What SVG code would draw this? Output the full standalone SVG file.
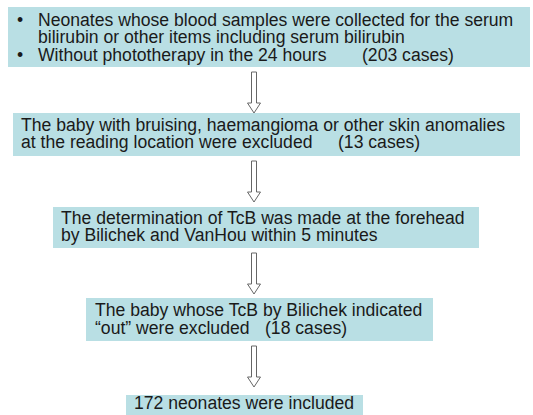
<svg xmlns="http://www.w3.org/2000/svg" width="533" height="415" viewBox="0 0 533 415">
<style>
.box{fill:#b9dfe4;}
.t{font-family:"Liberation Sans",Arial,sans-serif;font-size:17.6px;fill:#1a1a1a;}
.arr{fill:#ffffff;stroke:#666666;stroke-width:1;}
</style>
<defs>
<path id="arrow" d="M-2.5,0 H2.5 V31 H6.5 L0,41 L-6.5,31 H-2.5 Z"/>
</defs>
<rect width="533" height="415" fill="#ffffff"/>
<g id="n1">
<rect class="box" x="8" y="7" width="522" height="60"/>
<text class="t" x="17" y="26">•</text>
<text class="t" x="38" y="26">Neonates whose blood samples were collected for the serum</text>
<text class="t" x="38" y="43">bilirubin or other items including serum bilirubin</text>
<text class="t" x="17" y="61">•</text>
<text class="t" x="38" y="61">Without phototherapy in the 24 hours</text>
<text class="t" x="362" y="61">(203 cases)</text>
</g>
<g id="n2">
<rect class="box" x="13" y="113" width="507" height="43"/>
<text class="t" x="21" y="131">The baby with bruising, haemangioma or other skin anomalies</text>
<text class="t" x="21" y="148">at the reading location were excluded</text>
<text class="t" x="338" y="148">(13 cases)</text>
</g>
<g id="n3">
<rect class="box" x="53" y="207" width="426" height="41"/>
<text class="t" x="61" y="224">The determination of TcB was made at the forehead</text>
<text class="t" x="61" y="241">by Bilichek and VanHou within 5 minutes</text>
</g>
<g id="n4">
<rect class="box" x="86" y="298" width="347" height="43"/>
<text class="t" x="95" y="316">The baby whose TcB by Bilichek indicated</text>
<text class="t" x="95" y="334">“out” were excluded</text>
<text class="t" x="265" y="334">(18 cases)</text>
</g>
<g id="n5">
<rect class="box" x="126" y="395" width="237" height="20"/>
<text class="t" x="134" y="409">172 neonates were included</text>
</g>
<g id="connectors">
<use href="#arrow" class="arr" x="254" y="72"/>
<use href="#arrow" class="arr" x="254" y="161"/>
<use href="#arrow" class="arr" x="254" y="253"/>
<use href="#arrow" class="arr" x="254" y="346"/>
</g>
</svg>
